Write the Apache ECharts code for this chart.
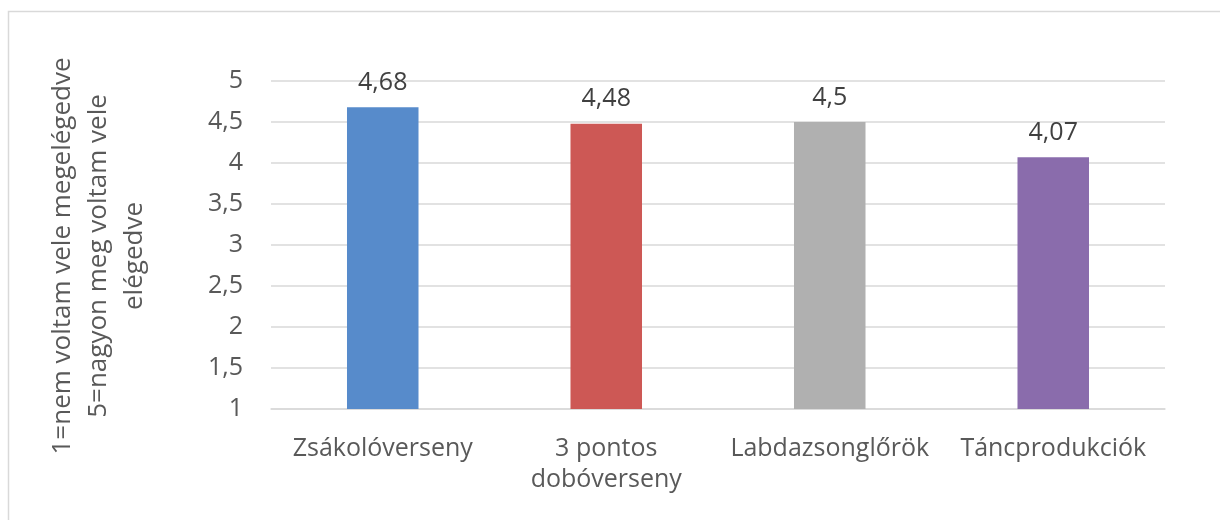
<!DOCTYPE html>
<html>
<head>
<meta charset="utf-8">
<script src="https://cdn.jsdelivr.net/npm/echarts@6/dist/echarts.min.js"></script>
<style>
html,body{margin:0;padding:0;background:#fff;}
#chart{width:1220px;height:520px;}
</style>
</head>
<body>
<div id="chart"></div>
<script>
const categories = ['Zsákolóverseny', '3 pontos\ndobóverseny', 'Labdazsonglőrök', 'Táncprodukciók'];
const values = [4.68, 4.48, 4.5, 4.07];
const barColors = ['#578BCB', '#CD5855', '#B0B0B0', '#8A6CAC'];
const yTitle = '1=nem voltam vele megelégedve\n5=nagyon meg voltam vele\nelégedve';
const yMin = 1, yMax = 5, yStep = 0.5;

const fmt = v => String(v).replace('.', ',');
const FONT = '"Open Sans", sans-serif';

const chart = echarts.init(document.getElementById('chart'), null, {renderer: 'canvas'});
chart.setOption({
  animation: false,
  backgroundColor: '#ffffff',
  graphic: [{
    type: 'rect',
    shape: {x: 8.5, y: 11.5, width: 1400, height: 700},
    style: {fill: null, stroke: '#d9d9d9', lineWidth: 1.5},
    silent: true
  }],
  grid: {left: 271, right: 55, top: 81, bottom: 111, containLabel: false},
  xAxis: {
    type: 'category',
    data: categories,
    axisLine: {show: true, lineStyle: {color: '#d9d9d9', width: 1.5}},
    axisTick: {show: false},
    axisLabel: {
      color: '#595959', fontFamily: FONT, fontSize: 25, lineHeight: 31,
      margin: 24, interval: 0
    }
  },
  yAxis: {
    type: 'value',
    min: yMin, max: yMax, interval: yStep,
    name: yTitle,
    nameLocation: 'middle',
    nameRotate: 90,
    nameGap: 118,
    nameTextStyle: {
      color: '#595959', fontFamily: FONT, fontSize: 26, lineHeight: 36,
      align: 'center', padding: [0, 22, 0, 0]
    },
    axisLine: {show: false},
    axisTick: {show: false},
    splitLine: {lineStyle: {color: '#d9d9d9', width: 1.5}},
    axisLabel: {
      color: '#595959', fontFamily: FONT, fontSize: 25, margin: 28,
      formatter: v => fmt(v)
    }
  },
  series: [{
    type: 'bar',
    data: values.map((v, i) => ({value: v, itemStyle: {color: barColors[i]}})),
    barWidth: '32%',
    label: {
      show: true, position: 'top', distance: 12,
      color: '#404040', fontFamily: FONT, fontSize: 25,
      formatter: p => fmt(p.value)
    }
  }]
});
</script>
</body>
</html>
